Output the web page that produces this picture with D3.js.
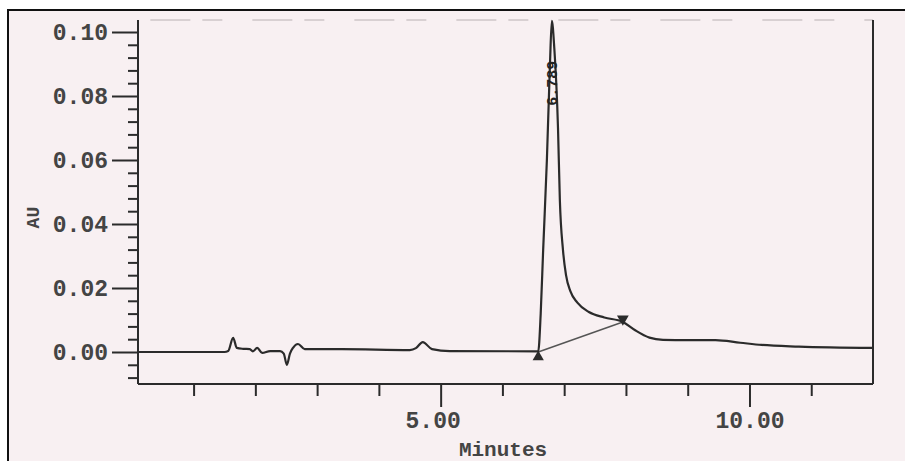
<!DOCTYPE html>
<html>
<head>
<meta charset="utf-8">
<script src="https://cdn.jsdelivr.net/npm/d3@7"></script>
<style>
  html, body { margin: 0; padding: 0; background: #ffffff; }
  svg { display: block; }
</style>
</head>
<body>
<svg id="viz"></svg>
<script>
// chromatogram trace (minutes, AU)
const times = [
  0.1, 1.50, 1.56, 1.64, 1.70, 1.80, 1.91, 1.96, 2.03, 2.11, 2.24, 2.40,
  2.46, 2.51, 2.56, 2.61, 2.69, 2.80, 3.40, 4.50, 4.60, 4.71, 4.86, 5.15,
  6.58, 6.62, 6.66, 6.72, 6.77, 6.80, 6.84, 6.90, 6.93, 6.98, 7.03, 7.10,
  7.21, 7.40, 7.65, 7.95, 8.15, 8.38, 8.60, 9.00, 9.45, 9.85, 10.20, 10.80, 12.0
];
const absorbance = [
  0.0, 0.0, 0.0003, 0.0044, 0.0013, 0.0010, 0.0009, 0.0002, 0.0013, -0.0003, 0.0003, 0.0003,
  -0.0005, -0.0040, -0.0005, 0.0013, 0.0025, 0.0009, 0.0009, 0.0006, 0.0012, 0.0031, 0.0009, 0.0003,
  0.0002, 0.012, 0.032, 0.060, 0.090, 0.1035, 0.095, 0.070, 0.0475, 0.032, 0.024, 0.019,
  0.0155, 0.0125, 0.0108, 0.0094, 0.0068, 0.0045, 0.0038, 0.0037, 0.0037, 0.0029, 0.0022, 0.0017, 0.0013
];

const yTicks = [0, 0.02, 0.04, 0.06, 0.08, 0.10];
const yMinorTicks = [-0.008, -0.004, 0.004, 0.008, 0.012, 0.016, 0.024, 0.028, 0.032, 0.036,
  0.044, 0.048, 0.052, 0.056, 0.064, 0.068, 0.072, 0.076, 0.084, 0.088, 0.092, 0.096];
const xTicks = [5, 10];
const xMinorTicks = [1, 2, 3, 4, 6, 7, 8, 9, 11];

const peakTime = 6.789;
const peakLabel = "6.789";
const baselineStart = [6.58, 0.0];
const baselineEnd = [7.95, 0.0094];

const W = 905, H = 461;
const margin = { top: 20, right: 32, bottom: 77, left: 138 };
const ink = "#2b2b2b";
const labelInk = "#444";
const mono = "'Liberation Mono', 'DejaVu Sans Mono', monospace";

const svg = d3.select("#viz")
    .attr("width", W)
    .attr("height", H)
    .attr("viewBox", [0, 0, W, H]);

// paper + scan frame
svg.append("rect")
    .attr("x", 8)
    .attr("y", 10)
    .attr("width", W + 10)
    .attr("height", H + 10)
    .attr("fill", "#f8f0f2")
    .attr("stroke", "#111")
    .attr("stroke-width", 2);

const x = d3.scaleLinear()
    .domain([0.1, 12.0])
    .range([margin.left, W - margin.right]);

const y = d3.scaleLinear()
    .domain([-0.01, 0.10375])
    .range([H - margin.bottom, margin.top]);

const data = times.map((t, i) => ({ t: t, v: absorbance[i] }));

// faint, badly printed top edge and the right edge of the plot box
svg.append("line")
    .attr("x1", x(0.3)).attr("x2", x(12.0))
    .attr("y1", y.range()[1]).attr("y2", y.range()[1])
    .attr("stroke", "#b8b0b2")
    .attr("stroke-width", 1)
    .attr("stroke-dasharray", "40,12,20,30");

svg.append("line")
    .attr("x1", x(12.0)).attr("x2", x(12.0))
    .attr("y1", y.range()[1]).attr("y2", y.range()[0])
    .attr("stroke", ink)
    .attr("stroke-width", 2);

// y axis
svg.append("g")
    .attr("transform", `translate(${margin.left},0)`)
    .call(d3.axisLeft(y).tickValues(yMinorTicks).tickSize(10).tickFormat(""))
    .call(g => {
        g.select(".domain").remove();
        g.selectAll(".tick line").attr("stroke", ink).attr("stroke-width", 2);
    });

svg.append("g")
    .attr("transform", `translate(${margin.left},0)`)
    .call(d3.axisLeft(y).tickValues(yTicks).tickSize(26).tickPadding(4).tickFormat(d3.format(".2f")))
    .call(g => {
        g.select(".domain")
            .attr("stroke", ink)
            .attr("stroke-width", 2)
            .attr("d", `M0,${y.range()[0]}V${y.range()[1]}`);
        g.selectAll(".tick line").attr("stroke", ink).attr("stroke-width", 2);
        g.selectAll(".tick text")
            .attr("fill", labelInk)
            .attr("font-family", mono)
            .attr("font-weight", "bold")
            .attr("font-size", 23);
    });

// x axis
svg.append("g")
    .attr("transform", `translate(0,${y.range()[0]})`)
    .call(d3.axisBottom(x).tickValues(xMinorTicks).tickSize(12).tickFormat(""))
    .call(g => {
        g.select(".domain").remove();
        g.selectAll(".tick line").attr("stroke", ink).attr("stroke-width", 2);
    });

svg.append("g")
    .attr("transform", `translate(0,${y.range()[0]})`)
    .call(d3.axisBottom(x).tickValues(xTicks).tickSize(23).tickPadding(5).tickFormat(d3.format(".2f")))
    .call(g => {
        g.select(".domain")
            .attr("stroke", ink)
            .attr("stroke-width", 2)
            .attr("d", `M${x.range()[0]},0H${x.range()[1]}`);
        g.selectAll(".tick line").attr("stroke", ink).attr("stroke-width", 2);
        g.selectAll(".tick text")
            .attr("fill", labelInk)
            .attr("font-family", mono)
            .attr("font-weight", "bold")
            .attr("font-size", 23)
            .attr("dx", d => d === 5 ? -8 : 0);
    });

svg.append("text")
    .attr("x", 503)
    .attr("y", 456)
    .attr("text-anchor", "middle")
    .attr("fill", labelInk)
    .attr("font-family", mono)
    .attr("font-weight", "bold")
    .attr("font-size", 21)
    .text("Minutes");

svg.append("text")
    .attr("transform", `translate(39,${y(0.042)}) rotate(-90)`)
    .attr("text-anchor", "middle")
    .attr("fill", labelInk)
    .attr("font-family", mono)
    .attr("font-weight", "bold")
    .attr("font-size", 18)
    .text("AU");

// integration baseline
svg.append("line")
    .attr("x1", x(baselineStart[0])).attr("y1", y(baselineStart[1]))
    .attr("x2", x(baselineEnd[0])).attr("y2", y(baselineEnd[1]))
    .attr("stroke", "#555")
    .attr("stroke-width", 1.5);

// trace
const line = d3.line()
    .x(d => x(d.t))
    .y(d => y(d.v))
    .curve(d3.curveMonotoneX);

svg.append("path")
    .datum(data)
    .attr("fill", "none")
    .attr("stroke", ink)
    .attr("stroke-width", 2.2)
    .attr("stroke-linejoin", "round")
    .attr("d", line);

// peak start / end markers
svg.append("path")
    .attr("d", d3.symbol().type(d3.symbolTriangle).size(55)())
    .attr("transform", `translate(${x(baselineStart[0])},${y(baselineStart[1]) + 5})`)
    .attr("fill", ink);

svg.append("path")
    .attr("d", d3.symbol().type(d3.symbolTriangle).size(60)())
    .attr("transform", `translate(${x(baselineEnd[0])},${y(baselineEnd[1]) - 3}) rotate(180)`)
    .attr("fill", ink);

// retention time label
svg.append("text")
    .attr("transform", `translate(${x(peakTime) + 6},${y(0.084)}) rotate(-90)`)
    .attr("text-anchor", "middle")
    .attr("fill", "#222")
    .attr("font-family", mono)
    .attr("font-weight", "bold")
    .attr("font-size", 15)
    .text(peakLabel);
</script>
</body>
</html>
